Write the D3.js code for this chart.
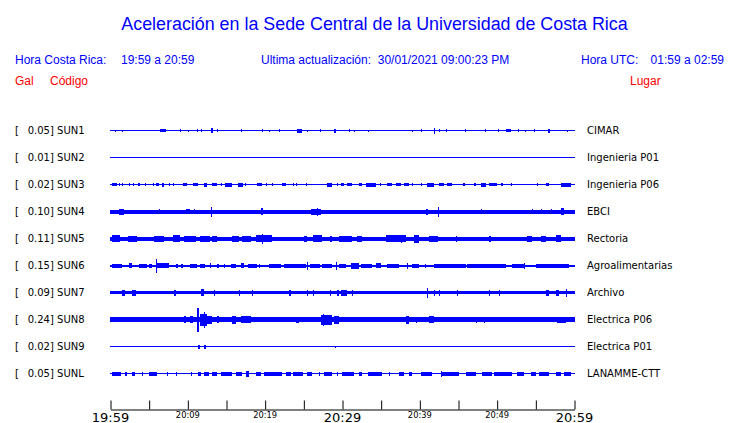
<!DOCTYPE html>
<html><head><meta charset="utf-8">
<script src="https://cdn.jsdelivr.net/npm/d3@7"></script>
<style>
html,body{margin:0;padding:0;background:#fff;}
svg{display:block;}
</style></head>
<body>
<svg id="chart" width="740" height="423"></svg>
<script>
// ---------- DATA ----------
const titleText = "Aceleración en la Sede Central de la Universidad de Costa Rica";
const localTime = "19:59 a 20:59";
const utcTime = "01:59 a 02:59";
const updated = "30/01/2021 09:00:23 PM";

const stations = ["SUN1","SUN2","SUN3","SUN4","SUN5","SUN6","SUN7","SUN8","SUN9","SUNL"];
const peakGal  = ["0.05","0.01","0.02","0.10","0.11","0.15","0.09","0.24","0.02","0.05"];
const places   = ["CIMAR","Ingenieria P01","Ingenieria P06","EBCI","Rectoria","Agroalimentarias","Archivo","Electrica P06","Electrica P01","LANAMME-CTT"];

// background noise half-amplitude of each trace (relative units)
const baseAmp  = [0.5, 0.5, 0.5, 2, 2, 1, 1.8, 2.3, 0.6, 0.8];

// minutes after 19:59 : tick values and their labels
const tickMinutes = [0,5,10,15,20,25,30,35,40,45,50,55,60];
const tickLabels  = ["19:59","","20:09","","20:19","","20:29","","20:39","","20:49","","20:59"];

// bursts per station: [start minute, end minute, half-amplitude]
const evSUN1 = [[0.7,0.7,1],[1.5,1.5,1],[6.5,7.3,1.5],[9.0,9.0,1.5],[10.1,10.1,1],[11.2,11.2,1.5],[11.8,11.8,1.5],[13.1,13.4,2.5],[13.8,13.9,1.5],[17.0,17.0,1.5],[19.6,19.6,1.5],[20.5,20.5,1],[21.8,21.8,1.5],[24.2,24.9,2],[25.5,25.5,1],[27.2,27.2,1.5],[29.0,29.3,2],[30.9,30.9,1.5],[31.6,31.6,1],[33.4,33.4,1],[39.1,39.1,1],[40.2,40.2,1.5],[41.9,41.9,3],[42.5,42.5,1.5],[43.5,43.5,1.5],[45.9,45.9,1.5],[48.5,48.5,1.5],[50.2,50.2,1.5],[51.2,51.9,1.5],[52.8,52.8,1.5],[53.7,53.7,1],[54.8,54.8,1.5],[56.6,56.8,2],[59.1,59.1,1]];
const evSUN2 = [];
const evSUN3 = [[0.2,0.9,1.5],[1.2,1.2,1.5],[1.5,1.5,1.5],[2.4,2.4,1.5],[3.0,3.0,1.5],[3.6,3.9,1.5],[4.5,4.5,1.5],[5.5,5.5,1.5],[6.0,6.4,1.5],[6.7,7.0,2],[7.6,7.6,1.5],[8.1,8.1,1.5],[9.4,9.9,1.5],[10.7,11.4,1.5],[12.2,12.6,2],[13.2,13.8,1.5],[14.4,14.4,1.5],[14.9,15.8,2],[16.5,17.1,2],[17.5,17.5,1.5],[19.0,19.7,1.5],[20.2,20.3,1.5],[20.9,20.9,1.5],[22.3,22.8,1.5],[23.6,23.6,1.5],[24.1,24.1,1.5],[25.4,25.4,1.5],[28.1,28.7,2],[29.3,29.3,1.5],[29.9,30.3,1.5],[30.7,31.3,1.5],[32.2,32.6,1.5],[33.1,34.4,2],[34.9,34.9,1.5],[35.8,36.5,1.5],[37.0,37.7,1.5],[38.0,38.7,1.5],[39.1,39.1,1.5],[40.2,40.2,1.5],[41.0,41.9,2],[42.5,43.1,1.5],[43.6,44.2,1.5],[45.7,46.0,1.5],[47.1,47.4,1.5],[48.0,48.6,2],[49.0,50.0,1.5],[50.6,50.9,1.5],[51.9,51.9,1.5],[55.2,55.2,1.5],[56.4,56.8,1.5],[58.3,59.6,2]];
const evSUN4 = [[1.1,1.7,3],[6.4,6.4,2.5],[9.8,10.3,2.5],[10.9,10.9,2.5],[13.0,13.0,5],[19.5,19.7,3.5],[26.0,27.3,3],[26.8,26.8,4],[40.9,41.1,3],[42.4,42.4,5],[48.0,48.0,2.5],[54.6,54.6,2.5],[55.7,55.7,2.5],[57.0,57.0,2.5],[58.3,58.7,3.5]];
const evSUN5 = [[0.2,1.2,3.5],[2.3,3.4,3],[5.7,7.0,3],[8.1,9.0,3.5],[9.6,11.2,3],[11.6,12.9,3],[13.2,13.9,3],[15.8,16.7,3],[17.1,18.3,3],[18.9,21.0,3.5],[19.7,19.7,5],[25.1,25.5,3],[26.2,27.4,3.5],[28.4,28.7,3],[29.6,31.3,3],[32.0,32.6,3],[35.7,38.3,3.5],[37.6,37.6,4],[39.3,40.0,4],[41.3,42.5,3],[44.7,44.8,3],[49.0,49.3,3],[53.9,54.6,3],[55.7,56.4,3],[57.7,58.4,3.5]];
const evSUN6 = [[0.2,1.5,2],[2.5,2.9,2.5],[3.7,4.7,2],[5.1,5.5,2],[6.0,6.0,7],[6.1,7.7,2.5],[8.5,8.7,2],[9.2,9.4,2],[10.3,11.2,2],[11.6,12.2,2],[12.9,12.9,2.5],[13.8,14.0,2],[14.7,14.7,2],[15.7,16.3,2],[17.0,17.4,2.5],[17.8,18.9,2],[19.3,19.3,2],[20.6,22.2,2],[22.5,25.4,2],[25.5,25.5,4],[25.8,27.1,2],[27.4,28.7,2],[29.2,29.2,4],[29.6,30.5,2],[31.2,32.2,3],[32.5,33.9,2],[34.4,35.1,2.5],[35.8,37.4,2],[38.4,38.4,3],[39.1,40.0,2],[40.7,40.7,2],[41.9,46.0,2],[46.2,51.2,2],[52.0,53.5,2],[53.5,53.5,3],[55.1,57.2,2],[57.2,59.4,2]];
const evSUN7 = [[1.5,1.9,3],[2.9,3.4,3],[8.3,8.6,3],[11.8,12.2,3.5],[13.5,13.5,3],[16.7,16.7,3],[18.4,18.4,3],[23.2,23.5,3],[25.5,25.5,3],[26.2,26.2,3],[28.4,28.4,3],[29.3,29.6,3],[29.9,30.7,3],[31.3,31.3,3],[41.0,41.0,5],[41.9,41.9,3],[42.5,42.5,3],[44.9,44.9,3],[49.0,49.0,3],[50.3,50.3,3],[56.4,56.8,3],[57.7,58.1,3],[59.0,59.0,4]];
const evSUN8 = [[7.9,8.3,2.5],[9.6,9.9,3.5],[10.3,10.7,3.5],[11.3,11.6,12],[11.6,12.5,6],[12.1,12.2,8],[12.6,13.2,4],[13.8,14.1,3.5],[14.8,14.8,2.5],[15.8,16.3,4],[17.0,18.3,3.5],[21.9,21.9,2.5],[24.1,24.5,3],[27.3,28.7,5],[27.6,27.6,6],[29.0,29.6,4],[33.5,33.9,2.5],[38.3,38.7,4],[39.6,39.6,3],[41.3,41.9,3.5],[44.1,44.1,2.5],[47.3,47.3,3],[48.4,48.4,3],[57.8,59.0,3]];
const evSUN9 = [[11.4,11.7,2],[12.2,12.5,2],[29.1,29.1,1]];
const evSUNL = [[0.3,1.5,2],[1.9,2.1,2],[2.8,3.2,2],[4.2,4.2,2],[5.1,6.1,2],[7.4,7.4,2],[8.5,8.5,2],[10.5,10.5,2],[11.4,11.8,2],[12.2,12.9,2],[13.2,13.9,2],[14.4,15.8,2],[16.3,17.1,2],[17.6,18.0,3],[18.9,19.6,2],[19.9,22.2,2],[22.8,23.4,2],[23.6,24.9,2],[25.5,26.2,2],[27.0,27.0,2],[27.7,28.7,2],[29.4,29.4,2],[30.0,31.6,2],[32.2,32.6,2],[33.3,35.1,2],[36.1,36.1,2],[37.4,38.0,2],[38.7,39.1,2],[40.2,41.6,2],[42.8,42.8,3],[42.9,45.1,2],[46.0,47.3,2],[48.1,49.4,2],[49.7,52.0,2],[52.6,53.5,2],[54.4,55.1,2],[55.5,56.8,2],[57.7,58.3,2],[58.7,59.6,2]];
const events = [evSUN1, evSUN2, evSUN3, evSUN4, evSUN5, evSUN6, evSUN7, evSUN8, evSUN9, evSUNL];

// ---------- DRAW ----------
const svg = d3.select("#chart");
const BLUE = "#0000ff", RED = "#ff0000";
const x = d3.scaleLinear().domain([0, 60]).range([110.5, 574.5]);
const y = d3.scalePoint().domain(stations).range([130.5, 373.5]);
const amp = d3.scaleLinear().domain([0, 12]).range([0, 12]);

// title
const title = svg.append("text").attr("x", 374.5).attr("y", 30)
  .attr("text-anchor", "middle").attr("fill", BLUE)
  .style("font-family", "'Liberation Sans', Arial, sans-serif").style("font-size", "19px")
  .text(titleText);
const tw = title.node().getComputedTextLength();
title.style("font-size", (19 * 507 / tw).toFixed(2) + "px");

const hdrFont = "'Liberation Sans', Arial, sans-serif";
function hdr(xp, yp, txt, col, anchor) {
  svg.append("text").attr("x", xp).attr("y", yp).attr("fill", col)
    .attr("text-anchor", anchor || "start")
    .style("font-family", hdrFont).style("font-size", "12px").text(txt);
}
hdr(15, 64, "Hora Costa Rica:", BLUE);
hdr(121, 64, localTime, BLUE);
hdr(261, 64, "Ultima actualización:  " .replace("  ", "\u00a0 ") + updated, BLUE);
hdr(581, 64, "Hora UTC:", BLUE);
hdr(724, 64, utcTime, BLUE, "end");
hdr(15, 85, "Gal", RED);
hdr(50, 85, "Código", RED);
hdr(630, 85, "Lugar", RED);

const lblFont = "'DejaVu Sans', sans-serif";
const rows = svg.append("g").selectAll("g").data(stations).join("g");
rows.append("text").attr("x", 15).attr("y", d => y(d) + 3.5)
  .style("font-family", lblFont).style("font-size", "10px").attr("fill", "#000").text("[");
rows.append("text").attr("x", 27.7).attr("y", d => y(d) + 3.5)
  .style("font-family", lblFont).style("font-size", "10px").attr("fill", "#000")
  .text((d, i) => peakGal[i] + "] " + d);
rows.append("text").attr("x", 587).attr("y", d => y(d) + 3.5)
  .style("font-family", lblFont).style("font-size", "10px").attr("fill", "#000")
  .text((d, i) => places[i]);

// traces
const traces = svg.append("g").attr("shape-rendering", "crispEdges").attr("fill", BLUE);
stations.forEach((s, i) => {
  const cy = y(s);
  const g = traces.append("g");
  g.append("rect").attr("x", x(0) - 0.5).attr("width", x(60) - x(0) + 1)
    .attr("y", cy - amp(baseAmp[i])).attr("height", 2 * amp(baseAmp[i]));
  g.selectAll("rect.ev").data(events[i]).join("rect").attr("class", "ev")
    .attr("x", d => Math.floor(x(d[0])))
    .attr("width", d => Math.max(1, Math.round(x(d[1]) - x(d[0]))))
    .attr("y", d => cy - amp(d[2]))
    .attr("height", d => 2 * amp(d[2]));
});

// time axis (ticks pointing up)
const axis = d3.axisTop(x).tickValues(tickMinutes).tickSize(9).tickSizeOuter(0).tickFormat("");
const ax = svg.append("g").attr("transform", "translate(0,409.5)").call(axis);
ax.select(".domain").attr("stroke", "#000");
ax.selectAll(".tick line").attr("stroke", "#000");
svg.append("g").selectAll("text").data(tickMinutes.filter((m, i) => tickLabels[i]))
  .join("text")
  .attr("x", m => x(m))
  .attr("y", m => (m % 30 === 0) ? 421.5 : 417.5)
  .attr("text-anchor", "middle")
  .style("font-family", lblFont)
  .style("font-size", m => (m % 30 === 0) ? "13px" : "8.3px")
  .attr("fill", "#000")
  .text(m => tickLabels[tickMinutes.indexOf(m)]);
</script>
</body></html>
